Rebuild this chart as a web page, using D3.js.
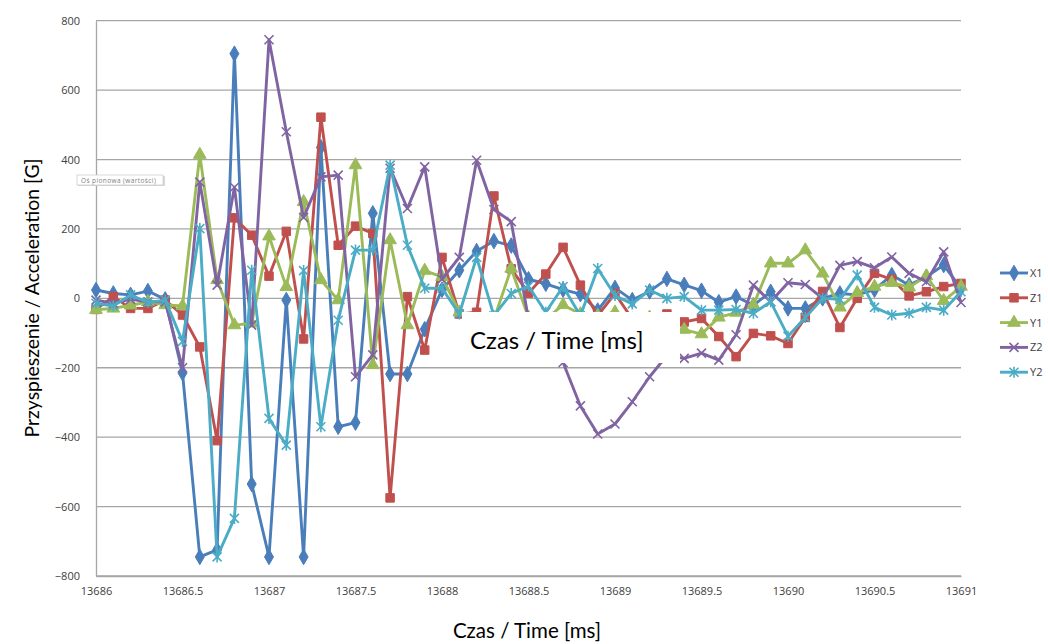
<!DOCTYPE html>
<html>
<head>
<meta charset="utf-8">
<script src="https://cdn.jsdelivr.net/npm/d3@7"></script>
<style>
  html, body { margin: 0; padding: 0; background: #fff; }
  svg { display: block; font-family: "Open Sans", "DejaVu Sans", sans-serif; }
</style>
</head>
<body>
<svg id="chart" width="1048" height="644"></svg>
<script>
// ---- data ----
const times = d3.range(51).map(i => +(13686 + i * 0.1).toFixed(1));
const xTickValues = [13686, 13686.5, 13687, 13687.5, 13688, 13688.5, 13689, 13689.5, 13690, 13690.5, 13691];
const yTickValues = [-800, -600, -400, -200, 0, 200, 400, 600, 800];
const seriesNames = ["X1", "Z1", "Y1", "Z2", "Y2"];
const seriesColors = ["#4A7EBB", "#C0504D", "#9BBB59", "#8064A2", "#4BACC6"];
const seriesMarkers = ["diamond", "square", "triangle", "cross", "star"];

const X1 = [24, 14, 10, 21, -3, -215, -745, -725, 705, -535, -745, -5, -745, 435, -370, -358, 245, -218, -218, -89,
            25, 81, 136, 165, 152, 55, 42, 25, 12, -35, 30, -5, 20, 56, 39, 22, -11, 5, -20, 19,
            -29, -29, 0, 14, 10, 25, 67, 38, 62, 96, 29];
const Z1 = [-32, 5, -29, -29, -5, -48, -140, -410, 232, 182, 64, 193, -117, 522, 153, 208, 187, -575, 5, -149,
            118, -45, -40, 295, 85, 15, 70, 147, 38, -50, 14, -60, -55, -45, -68, -58, -110, -168, -101, -108,
            -130, -55, 20, -84, 0, 72, 55, 7, 19, 34, 43];
const Y1 = [-33, -29, -20, -10, -19, -22, 414, 53, -77, -72, 179, 33, 278, 53, -5, 384, -192, 168, -77, 80,
            62, -40, -70, -60, 86, -55, -60, -19, -45, -50, -40, -60, -55, -80, -90, -103, -55, -41, -19, 101,
            101, 139, 72, -26, 16, 34, 45, 32, 64, -7, 34];
const Z2 = [-5, -14, -3, -10, -10, -200, 335, 38, 320, -77, 745, 480, 233, 350, 355, -226, -163, 375, 259, 379,
            55, 118, 398, 256, 221, -60, -130, -185, -310, -391, -362, -298, -226, -165, -173, -158, -178, -105, 38, -10,
            45, 40, 0, 95, 106, 88, 119, 72, 48, 134, -12];
const Y2 = [-14, -22, 10, -12, -5, -124, 201, -745, -634, 81, -346, -423, 80, -370, -63, 139, 139, 384, 153, 29,
            29, -45, 118, -50, 14, 35, -40, 34, -50, 86, 8, -16, 24, 0, 5, -34, -34, -32, -43, -10,
            -109, -55, 0, -3, 67, -26, -48, -43, -26, -34, 19];
const seriesValues = [X1, Z1, Y1, Z2, Y2];

const xTitle = "Czas / Time [ms]";
const yTitle = "Przyspieszenie / Acceleration [G]";
const tooltipText = "Oś pionowa (wartości)";

// ---- layout ----
const svg = d3.select("#chart");
const plot = { left: 96, right: 961, top: 20.7, bottom: 576 };
const x = d3.scaleLinear().domain([13686, 13691]).range([plot.left, plot.right]);
const y = d3.scaleLinear().domain([-800, 800]).range([plot.bottom, plot.top]);

// gridlines
svg.append("g")
  .selectAll("line")
  .data(yTickValues)
  .join("line")
  .attr("x1", plot.left).attr("x2", plot.right)
  .attr("y1", d => y(d)).attr("y2", d => y(d))
  .attr("stroke", "#a6a6a6").attr("stroke-width", 1.3);

// y axis
const yAxis = svg.append("g")
  .attr("transform", `translate(${plot.left},0)`)
  .call(d3.axisLeft(y).tickValues(yTickValues).tickSize(0).tickPadding(16).tickFormat(d3.format("d")));
yAxis.select(".domain").attr("stroke", "#a6a6a6").attr("stroke-width", 1.3);
yAxis.selectAll("text").attr("font-size", 11).attr("fill", "#404040")
  .attr("font-family", "'Open Sans', sans-serif");

// x axis
const xAxis = svg.append("g")
  .attr("transform", `translate(0,${plot.bottom})`)
  .call(d3.axisBottom(x).tickValues(xTickValues).tickSize(0).tickPadding(11).tickFormat(d => String(d)));
xAxis.select(".domain").attr("stroke", "#a6a6a6").attr("stroke-width", 1.3);
xAxis.selectAll("text").attr("font-size", 11).attr("fill", "#404040")
  .attr("font-family", "'Open Sans', sans-serif");

// marker symbols
function markerPath(type) {
  switch (type) {
    case "diamond": return d3.symbol(d3.symbolDiamond, 70)();
    case "square": return d3.symbol(d3.symbolSquare, 72)();
    case "triangle": return d3.symbol(d3.symbolTriangle, 70)();
    case "cross": return "M-4.5,-4.5L4.5,4.5M-4.5,4.5L4.5,-4.5";
    case "star": return "M-4.5,-4.5L4.5,4.5M-4.5,4.5L4.5,-4.5M0,-5.5L0,5.5";
  }
}
function drawMarker(g, type, color) {
  const filled = (type === "diamond" || type === "square" || type === "triangle");
  g.append("path")
    .attr("d", markerPath(type))
    .attr("fill", filled ? color : "none")
    .attr("stroke", color)
    .attr("stroke-width", filled ? 1 : 1.6);
}

const line = d3.line().x(d => x(d[0])).y(d => y(d[1]));

seriesNames.forEach((name, si) => {
  const pts = times.map((t, i) => [t, seriesValues[si][i]]);
  const g = svg.append("g").attr("class", "series");
  g.append("path")
    .datum(pts)
    .attr("d", line)
    .attr("fill", "none")
    .attr("stroke", seriesColors[si])
    .attr("stroke-width", 2.9)
    .attr("stroke-linejoin", "round");
  g.selectAll("g.mk")
    .data(pts)
    .join("g")
    .attr("class", "mk")
    .attr("transform", d => `translate(${x(d[0])},${y(d[1])})`)
    .each(function() { drawMarker(d3.select(this), seriesMarkers[si], seriesColors[si]); });
});

// legend
const legend = svg.append("g");
seriesNames.forEach((name, si) => {
  const ly = 273 + si * 24.8;
  const lg = legend.append("g").attr("transform", `translate(1000,${ly})`);
  lg.append("line").attr("x1", 0).attr("x2", 28).attr("y1", 0).attr("y2", 0)
    .attr("stroke", seriesColors[si]).attr("stroke-width", 2.9);
  const mk = lg.append("g").attr("transform", "translate(14,0)");
  drawMarker(mk, seriesMarkers[si], seriesColors[si]);
  lg.append("text").attr("x", 30).attr("y", 4).text(name)
    .attr("font-size", 11).attr("fill", "#404040");
});

// overlay box inside plot
svg.append("rect").attr("x", 462).attr("y", 312).attr("width", 218).attr("height", 51).attr("fill", "#fff");
svg.append("text").attr("x", 470).attr("y", 349).text(xTitle)
  .attr("font-size", 24).attr("fill", "#000")
  .attr("font-family", "Lato, 'Open Sans', sans-serif");

// axis titles
svg.append("text").attr("x", 527).attr("y", 638).attr("text-anchor", "middle").text(xTitle)
  .attr("font-size", 20.5).attr("fill", "#000")
  .attr("font-family", "Lato, 'Open Sans', sans-serif");
svg.append("text")
  .attr("transform", "translate(39,298) rotate(-90)")
  .attr("text-anchor", "middle").text(yTitle)
  .attr("font-size", 19.4).attr("fill", "#000")
  .attr("font-family", "Lato, 'Open Sans', sans-serif");

// small tooltip label
const tip = svg.append("g").attr("transform", "translate(77,175)");
tip.append("rect").attr("x", 1).attr("y", 1).attr("width", 87).attr("height", 10).attr("fill", "#d9d9d9");
tip.append("rect").attr("width", 86).attr("height", 10).attr("fill", "#fff").attr("stroke", "#bfbfbf").attr("stroke-width", 0.6);
tip.append("text").attr("x", 4).attr("y", 7.5).text(tooltipText)
  .attr("font-size", 6.5).attr("fill", "#808080").attr("letter-spacing", 0.4);
</script>
</body>
</html>
